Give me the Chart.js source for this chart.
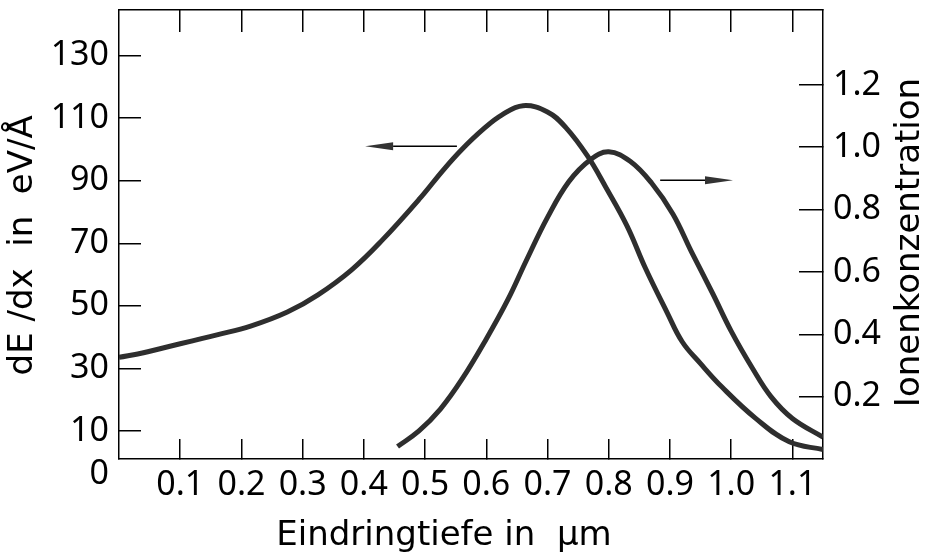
<!DOCTYPE html>
<html>
<head>
<meta charset="utf-8">
<script src="https://cdn.jsdelivr.net/npm/chart.js@4.4.0/dist/chart.umd.min.js"></script>
<style>
html, body { margin: 0; padding: 0; background: #fff; }
#wrap { width: 927px; height: 557px; }
</style>
</head>
<body>
<div id="wrap"><canvas id="chart" width="927" height="557"></canvas></div>
<script>
// dE/dx (linke Achse) über der Eindringtiefe
const depthLoss = [0, 0.04, 0.08, 0.12, 0.16, 0.215, 0.275, 0.325, 0.38, 0.43, 0.49, 0.53, 0.56, 0.595, 0.625, 0.66, 0.70, 0.73, 0.765, 0.795, 0.83, 0.86, 0.895, 0.92, 0.95, 0.985, 1.04, 1.095, 1.15];
const lossValues = [33.5, 35, 36.9, 38.8, 40.7, 43.5, 48, 53.5, 61.5, 71, 84, 93.5, 100, 106.5, 111, 114, 112, 107, 98, 88, 75.5, 62, 48, 38.5, 31.5, 24, 14, 6.5, 4];

// Ionenkonzentration (rechte Achse)
const depthIons = [0.455, 0.49, 0.525, 0.56, 0.60, 0.635, 0.665, 0.70, 0.735, 0.77, 0.80, 0.835, 0.87, 0.905, 0.935, 0.97, 1.0, 1.035, 1.065, 1.10, 1.15];
const ionValues = [0.04, 0.09, 0.16, 0.255, 0.385, 0.51, 0.635, 0.775, 0.89, 0.96, 0.985, 0.955, 0.885, 0.785, 0.665, 0.53, 0.41, 0.29, 0.2, 0.13, 0.07];

const depthTicks = [0.1, 0.2, 0.3, 0.4, 0.5, 0.6, 0.7, 0.8, 0.9, 1.0, 1.1];
const lossTicks = [0, 10, 30, 50, 70, 90, 110, 130];
const ionTicks = [0.2, 0.4, 0.6, 0.8, 1.0, 1.2];

// Pfeile: welche Kurve zu welcher Achse gehört
const arrowLoss = { axis: 'y', x0: 0.552, x1: 0.402, y: 101 };
const arrowIons = { axis: 'y2', x0: 0.884, x1: 1.003, y: 0.894 };

// schmale Ziffern: "condensed" steht im Gewicht-Feld, damit es im Font-String landet
const numFont = { family: "'Noto Sans', 'DejaVu Sans Condensed', sans-serif", size: 34, weight: 'normal condensed' };
const titleFont = { family: "'DejaVu Sans', sans-serif", size: 34 };
const ink = '#000';
const curveInk = '#2e2e2e';

function pts(xs, ys) {
	return xs.map((x, i) => ({ x: x, y: ys[i] }));
}

function fixTicks(list) {
	return function (scale) {
		scale.ticks = list.map(v => ({ value: v }));
	};
}

// feste Achsenbreiten, ohne Zusatzabstand für überstehende Beschriftung
function fitTo(w, h) {
	return function (s) {
		if (w !== null) s.width = w;
		if (h !== null) s.height = h;
		s.paddingTop = 0;
		s.paddingBottom = 0;
		s.paddingLeft = 0;
		s.paddingRight = 0;
	};
}

const arrowsPlugin = {
	id: 'arrows',
	afterDatasetsDraw(chart) {
		const ctx = chart.ctx;
		const xs = chart.scales.x;
		[arrowLoss, arrowIons].forEach(a => {
			const ys = chart.scales[a.axis];
			const px0 = xs.getPixelForValue(a.x0);
			const px1 = xs.getPixelForValue(a.x1);
			const py = ys.getPixelForValue(a.y);
			const dir = px1 > px0 ? 1 : -1;
			const head = 28;
			ctx.save();
			ctx.strokeStyle = ink;
			ctx.fillStyle = '#333';
			ctx.lineWidth = 1.5;
			ctx.beginPath();
			ctx.moveTo(px0, py);
			ctx.lineTo(px1 - dir * head, py);
			ctx.stroke();
			ctx.beginPath();
			ctx.moveTo(px1, py);
			ctx.lineTo(px1 - dir * head, py - 4);
			ctx.lineTo(px1 - dir * head, py + 4);
			ctx.closePath();
			ctx.fill();
			ctx.restore();
		});
	}
};

// Titel der rechten Achse, von unten nach oben gelesen
const rightTitlePlugin = {
	id: 'rightTitle',
	afterDraw(chart) {
		const ctx = chart.ctx;
		const s = chart.scales.y2;
		ctx.save();
		ctx.translate(s.right - 17, (s.top + s.bottom) / 2 + 8);
		ctx.rotate(-Math.PI / 2);
		ctx.font = titleFont.size + 'px ' + titleFont.family;
		ctx.fillStyle = ink;
		ctx.textAlign = 'center';
		ctx.textBaseline = 'middle';
		ctx.fillText('Ionenkonzentration', 0, 0);
		ctx.restore();
	}
};

new Chart(document.getElementById('chart'), {
	type: 'line',
	data: {
		datasets: [{
			label: 'dE/dx',
			data: pts(depthLoss, lossValues),
			yAxisID: 'y',
			borderColor: curveInk,
			borderWidth: 5,
			pointRadius: 0,
			tension: 0.4,
			fill: false
		}, {
			label: 'Ionenkonzentration',
			data: pts(depthIons, ionValues),
			yAxisID: 'y2',
			borderColor: curveInk,
			borderWidth: 5,
			pointRadius: 0,
			tension: 0.4,
			fill: false
		}]
	},
	options: {
		responsive: false,
		animation: false,
		devicePixelRatio: 1,
		layout: { padding: 0 },
		plugins: {
			legend: { display: false },
			tooltip: { enabled: false }
		},
		scales: {
			x: {
				type: 'linear',
				position: 'bottom',
				min: 0,
				max: 1.15,
				afterBuildTicks: fixTicks(depthTicks),
				afterFit: fitTo(null, 98),
				ticks: {
					font: Object.assign({ lineHeight: 1.0 }, numFont),
					color: ink,
					padding: 29,
					maxRotation: 0,
					autoSkip: false,
					callback: v => v.toFixed(1)
				},
				grid: { drawOnChartArea: false, tickLength: -20, color: ink, lineWidth: 1.5 },
				border: { color: ink, width: 1.5 },
				title: {
					display: true,
					text: 'Eindringtiefe in  µm     ',
					font: titleFont,
					color: ink,
					padding: { top: 0, bottom: 0 }
				}
			},
			xTop: {
				type: 'linear',
				position: 'top',
				min: 0,
				max: 1.15,
				afterBuildTicks: fixTicks(depthTicks),
				afterFit: fitTo(null, 10),
				ticks: { display: false },
				grid: { drawOnChartArea: false, tickLength: -22, color: ink, lineWidth: 1.5 },
				border: { color: ink, width: 1.5 }
			},
			y: {
				type: 'linear',
				position: 'left',
				min: 1,
				max: 144.6,
				afterBuildTicks: fixTicks(lossTicks),
				afterFit: fitTo(119, null),
				ticks: {
					font: Object.assign({ lineHeight: 0.7 }, numFont),
					color: ink,
					padding: 32,
					callback: v => v === 0 ? ['', '0'] : String(v)
				},
				grid: {
					drawOnChartArea: false,
					tickLength: -22,
					lineWidth: 1.5,
					color: c => (c.tick && c.tick.value === 0) ? 'rgba(0,0,0,0)' : ink
				},
				border: { color: ink, width: 1.5 },
				title: {
					display: true,
					text: 'dE /dx  in  eV/Å  ',
					font: titleFont,
					color: ink,
					padding: { top: 3, bottom: 0 }
				}
			},
			y2: {
				type: 'linear',
				position: 'right',
				min: 0,
				max: 1.44,
				afterBuildTicks: fixTicks(ionTicks),
				afterFit: fitTo(104, null),
				ticks: {
					font: numFont,
					color: ink,
					padding: 34,
					callback: v => v.toFixed(1)
				},
				grid: { drawOnChartArea: false, tickLength: -24, color: ink, lineWidth: 1.5 },
				border: { color: ink, width: 1.5 }
			}
		}
	},
	plugins: [arrowsPlugin, rightTitlePlugin]
});
</script>
</body>
</html>
